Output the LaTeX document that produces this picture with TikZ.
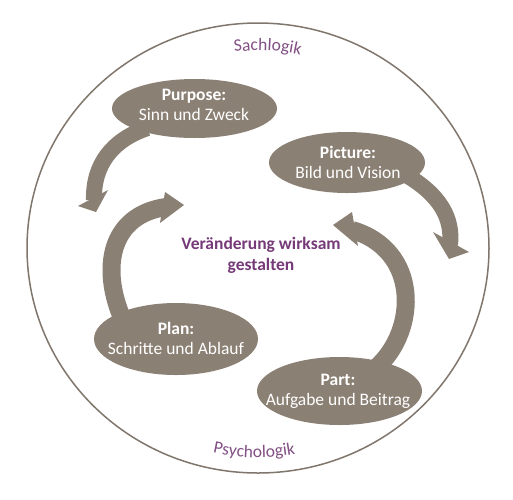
\documentclass[tikz,border=0pt]{standalone}
\usepackage{fontspec}
\setmainfont{Carlito}
\usetikzlibrary{shapes.geometric,decorations.text}
\definecolor{blob}{RGB}{139,128,116}
\definecolor{ring}{RGB}{128,118,108}
\definecolor{lilac}{RGB}{118,58,120}
\definecolor{lilaclight}{RGB}{130,80,132}
\begin{document}
\begin{tikzpicture}[x=1pt,y=-1pt,
  blobshape/.style={ellipse, fill=blob, draw=none, inner sep=0pt, outer sep=0pt},
  blobtext/.style={text=white, align=center, font=\fontsize{17.5}{20}\selectfont},
  shaft/.style={draw=blob, line width=#1},
  shaft/.default=16pt,
  headshape/.style={fill=blob, draw=none},
  arclabel/.style={decorate, decoration={text along path, text align=center, text={#1}}}]
\useasboundingbox (0,0) rectangle (513,499);
\fill[white] (0,0) rectangle (513,499);

% outer ring
\node[ellipse, draw=ring, line width=1.5pt, minimum width=462pt, minimum height=450pt, inner sep=0pt] (frame) at (258,248) {};

% ellipses
\node[blobshape, minimum width=165pt, minimum height=59pt] (purpose) at (194.5,108.5) {};
\node[blobshape, minimum width=156pt, minimum height=61pt] (picture) at (347,162.5) {};
\node[blobshape, minimum width=164pt, minimum height=72pt] (plan) at (176,339) {};
\node[blobshape, minimum width=165pt, minimum height=68pt] (part) at (339.5,391) {};

% free ends of the arrows
\coordinate (e1) at (94,200);
\coordinate (e2) at (166,207);
\coordinate (e3) at (450,245);
\coordinate (e4) at (352,230);

% shafts
\draw[shaft=16pt, shorten <=-8pt] (purpose.202) .. controls (112,140) and (93,165) .. (e1);
\draw[shaft=18pt, shorten <=-8pt] (plan.155) .. controls (100,268) and (110,215) .. (e2);
\draw[shaft=16pt, shorten <=-8pt] (picture.-14) .. controls (440,195) and (453,218) .. (e3);
\draw[shaft=18pt, shorten <=-8pt] (part.34) .. controls (418,330) and (420,250) .. (e4);

% heads
\fill[headshape] (78,206) -- (96,212) -- (108,190) -- cycle;
\fill[headshape] (165,192) -- (184,205) -- (160,223) -- cycle;
\fill[headshape] (433,232) -- (449,259) -- (469,252) -- cycle;
\fill[headshape] (352,212) -- (333,225) -- (358,246) -- cycle;

% texts in ellipses
\node[blobtext] (purposetext) at (194,105) {\textbf{Purpose:}\\Sinn und Zweck};
\node[blobtext] (picturetext) at (348,162) {\textbf{Picture:}\\Bild und Vision};
\node[blobtext] (plantext) at (176,338) {\textbf{Plan:}\\Schritte und Ablauf};
\node[blobtext] (parttext) at (338,391.5) {\textbf{Part:}\\Aufgabe und Beitrag};

% centre text
\node[text=lilac, align=center, font=\bfseries\fontsize{17.5}{21.3}\selectfont] (centre) at (261,255) {Veränderung wirksam\\gestalten};

% arc labels
\path[arclabel={|\color{lilaclight}\fontsize{17.5}{20}\selectfont|Sachlogik}] (258,248) ++(242.76:197.5) arc[start angle=242.76, end angle=302.76, radius=197.5];
\path[arclabel={|\color{lilaclight}\fontsize{17.5}{20}\selectfont|Psychologik}] (258,248) ++(121.1:209.5) arc[start angle=121.1, end angle=61.1, radius=209.5];
\end{tikzpicture}
\end{document}
